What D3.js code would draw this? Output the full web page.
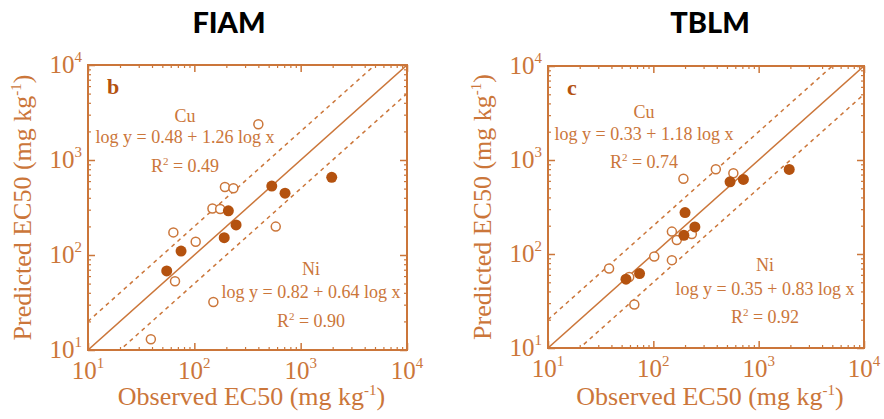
<!DOCTYPE html>
<html>
<head>
<meta charset="utf-8">
<script src="https://cdn.jsdelivr.net/npm/d3@7/dist/d3.min.js"></script>
<style>
body { margin: 0; background: #fff; }
</style>
</head>
<body>
<div id="chart"></div>
<script>
// observed / predicted EC50 values, mg/kg
var fiamCuObs  = [400, 194, 233, 148, 175, 63.5, 103, 583, 65.8, 151, 39];
var fiamCuPred = [2380, 520, 504, 309, 305, 173, 138, 199, 53, 32, 13];
var fiamNiObs  = [55, 75, 191, 209, 247, 535, 713, 1959];
var fiamNiPred = [68, 110, 152, 292, 207, 532, 447, 658];

var tblmCuObs  = [38, 59, 102, 150, 66, 150, 167, 232, 193, 392, 575];
var tblmCuPred = [70, 57, 94, 86, 29, 173, 141, 163, 631, 798, 724];
var tblmNiObs  = [55, 74, 195, 200, 248, 535, 716, 1950];
var tblmNiPred = [54, 62, 158, 276, 194, 586, 621, 794];

var tickExps = [1, 2, 3, 4];
var panelTitles = ["FIAM", "TBLM"];
var panelLetters = ["b", "c"];
var cuEquations = ["log y = 0.48 + 1.26 log x", "log y = 0.33 + 1.18 log x"];
var cuR2 = ["0.49", "0.74"];
var niEquations = ["log y = 0.82 + 0.64 log x", "log y = 0.35 + 0.83 log x"];
var niR2 = ["0.90", "0.92"];

var W = 884, H = 419;
var orange = "#cb763a";
var dark = "#b4520f";
var serif = "'Liberation Serif', 'Times New Roman', Times, serif";

var svg = d3.select("#chart").append("svg")
    .attr("width", W)
    .attr("height", H);

var minorTicks = [];
for (var k = 1; k < 4; k++) {
    for (var m = 2; m < 10; m++) minorTicks.push(m * Math.pow(10, k));
}
var majorTicks = tickExps.map(function(e) { return Math.pow(10, e); });

function drawPanel(i, box, cuObs, cuPred, niObs, niPred, txt) {
    var g = svg.append("g");
    var x = d3.scaleLog().domain([10, 10000]).range([box.left, box.right]);
    var y = d3.scaleLog().domain([10, 10000]).range([box.bottom, box.top]);

    // title
    g.append("text")
        .attr("x", box.titleX)
        .attr("y", 33)
        .attr("text-anchor", "middle")
        .style("font-family", "Lato, 'DejaVu Sans', sans-serif")
        .style("font-weight", "900")
        .style("font-size", "29px")
        .attr("fill", "#000")
        .text(panelTitles[i]);

    // inward ticks on all four sides
    var sides = [
        [d3.axisBottom(x), "translate(0," + box.bottom + ")"],
        [d3.axisTop(x), "translate(0," + box.top + ")"],
        [d3.axisLeft(y), "translate(" + box.left + ",0)"],
        [d3.axisRight(y), "translate(" + box.right + ",0)"]
    ];
    sides.forEach(function(s) {
        g.append("g").attr("transform", s[1])
            .call(s[0].tickValues(minorTicks).tickSize(-3).tickFormat(""))
            .call(function(a) { a.select(".domain").remove(); })
            .selectAll("line").attr("stroke", orange).attr("stroke-width", 1.2);
        g.append("g").attr("transform", s[1])
            .call(s[0].tickValues(majorTicks).tickSize(-7).tickFormat(""))
            .call(function(a) { a.select(".domain").remove(); })
            .selectAll("line").attr("stroke", orange).attr("stroke-width", 1.5);
    });

    g.append("rect")
        .attr("x", box.left).attr("y", box.top)
        .attr("width", box.right - box.left)
        .attr("height", box.bottom - box.top)
        .attr("fill", "none")
        .attr("stroke", orange)
        .attr("stroke-width", 2);

    var clipId = "clip" + i;
    svg.append("clipPath").attr("id", clipId)
        .append("rect")
        .attr("x", box.left).attr("y", box.top)
        .attr("width", box.right - box.left)
        .attr("height", box.bottom - box.top);

    // 1:1 line and factor-of-two lines
    var lines = [
        { f: 1, dash: null },
        { f: 2, dash: "4,4" },
        { f: 0.5, dash: "4,4" }
    ];
    lines.forEach(function(l) {
        g.append("line")
            .attr("clip-path", "url(#" + clipId + ")")
            .attr("x1", x(10)).attr("y1", y(10 * l.f))
            .attr("x2", x(10000)).attr("y2", y(10000 * l.f))
            .attr("stroke", orange)
            .attr("stroke-width", 1.5)
            .attr("stroke-dasharray", l.dash);
    });

    // points
    g.selectAll(".cu").data(cuObs).enter().append("circle")
        .attr("cx", function(d) { return x(d); })
        .attr("cy", function(d, j) { return y(cuPred[j]); })
        .attr("r", 4.5)
        .attr("fill", "#fff")
        .attr("stroke", orange)
        .attr("stroke-width", 1.5);
    g.selectAll(".ni").data(niObs).enter().append("circle")
        .attr("cx", function(d) { return x(d); })
        .attr("cy", function(d, j) { return y(niPred[j]); })
        .attr("r", 5.5)
        .attr("fill", dark);

    // tick labels
    tickExps.forEach(function(e) {
        var v = Math.pow(10, e);
        var tx = g.append("text")
            .attr("x", x(v)).attr("y", box.bottom + 29)
            .attr("text-anchor", "middle")
            .style("font-family", serif).style("font-size", "25px")
            .attr("fill", orange);
        tx.append("tspan").text("10");
        tx.append("tspan").attr("dy", -11).style("font-size", "15px").text(e);

        var ty = g.append("text")
            .attr("x", box.left - 6).attr("y", y(v) + 8)
            .attr("text-anchor", "end")
            .style("font-family", serif).style("font-size", "25px")
            .attr("fill", orange);
        ty.append("tspan").text("10");
        ty.append("tspan").attr("dy", -11).style("font-size", "15px").text(e);
    });

    // axis titles
    var xt = g.append("text")
        .attr("x", (box.left + box.right) / 2 + 4)
        .attr("y", 405)
        .attr("text-anchor", "middle")
        .style("font-family", serif).style("font-size", "26px")
        .attr("fill", orange);
    xt.append("tspan").text("Observed EC50 (mg kg");
    xt.append("tspan").attr("dy", -10).style("font-size", "15px").text("-1");
    xt.append("tspan").attr("dy", 10).text(")");

    var yt = g.append("text")
        .attr("transform", "translate(" + (box.left - 57) + "," + ((box.top + box.bottom) / 2) + ") rotate(-90)")
        .attr("text-anchor", "middle")
        .style("font-family", serif).style("font-size", "26px")
        .attr("fill", orange);
    yt.append("tspan").text("Predicted EC50 (mg kg");
    yt.append("tspan").attr("dy", -10).style("font-size", "15px").text("-1");
    yt.append("tspan").attr("dy", 10).text(")");

    // annotations
    g.append("text")
        .attr("x", box.left + 19).attr("y", box.top + 29)
        .style("font-family", serif).style("font-size", "22px")
        .style("font-weight", "bold")
        .attr("fill", dark)
        .text(panelLetters[i]);

    function note(cx, yy, parts) {
        var fs = "18px";
        g.append("text").attr("x", cx).attr("y", yy[0])
            .attr("text-anchor", "middle")
            .style("font-family", serif).style("font-size", fs)
            .attr("fill", orange).text(parts[0]);
        g.append("text").attr("x", cx).attr("y", yy[1])
            .attr("text-anchor", "middle")
            .style("font-family", serif).style("font-size", fs)
            .attr("fill", orange).text(parts[1]);
        var r = g.append("text").attr("x", cx).attr("y", yy[2])
            .attr("text-anchor", "middle")
            .style("font-family", serif).style("font-size", fs)
            .attr("fill", orange);
        r.append("tspan").text("R");
        r.append("tspan").attr("dy", -7).style("font-size", "11px").text("2");
        r.append("tspan").attr("dy", 7).text(" = " + parts[2]);
    }
    note(txt.cuX, txt.cuY, ["Cu", cuEquations[i], cuR2[i]]);
    note(txt.niX, txt.niY, ["Ni", niEquations[i], niR2[i]]);
}

drawPanel(0, { left: 88, right: 407, top: 65, bottom: 350, titleX: 229 },
    fiamCuObs, fiamCuPred, fiamNiObs, fiamNiPred,
    { cuX: 185, cuY: [122, 143, 172], niX: 311, niY: [275, 298, 327] });

drawPanel(1, { left: 548, right: 864, top: 66, bottom: 348, titleX: 710 },
    tblmCuObs, tblmCuPred, tblmNiObs, tblmNiPred,
    { cuX: 644, cuY: [118, 140, 168], niX: 765, niY: [271, 295, 323] });
</script>
</body>
</html>
